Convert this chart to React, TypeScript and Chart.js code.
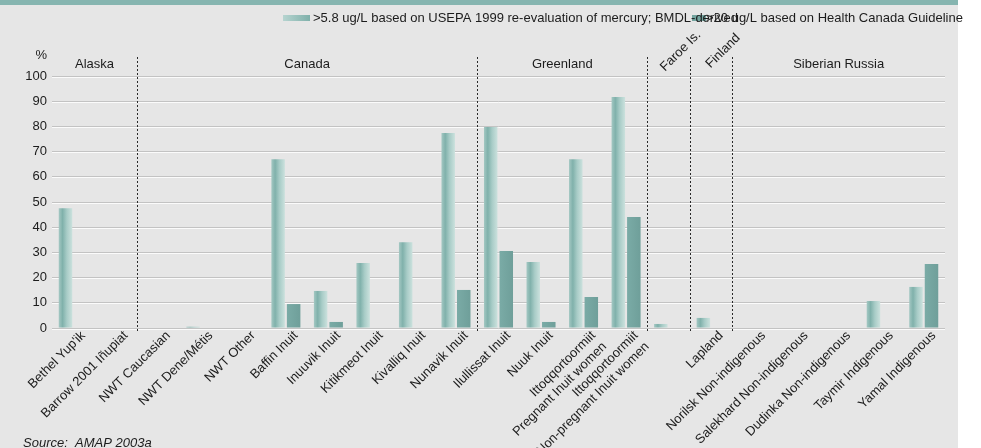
import React, { useEffect, useRef } from "react";
import { Chart, registerables } from "chart.js";

Chart.register(...registerables);

// ---------- data ----------
const categories: (string | string[])[] = [
  "Bethel Yup'ik",
  "Barrow 2001 Iñupiat",
  "NWT Caucasian",
  "NWT Dene/Métis",
  "NWT Other",
  "Baffin Inuit",
  "Inuuvik Inuit",
  "Kitikmeot Inuit",
  "Kivalliq Inuit",
  "Nunavik Inuit",
  "Ilullissat Inuit",
  "Nuuk Inuit",
  ["Ittoqqortoormiit", "Pregnant Inuit women"],
  ["Ittoqqortoormiit", "Non-pregnant Inuit women"],
  "",
  "Lapland",
  "Norilsk Non-indigenous",
  "Salekhard Non-indigenous",
  "Dudinka Non-indigenous",
  "Taymir Indigenous",
  "Yamal Indigenous",
];

const seriesNames = [
  ">5.8 ug/L based on USEPA 1999 re-evaluation of mercury; BMDL-derived",
  ">20 ug/L based on Health Canada Guideline",
];

const usepaValues = [
  47.5, 0, 0, 0.5, 0, 67, 14.7, 25.8, 34, 77.4, 79.8, 26.2, 67, 91.7, 1.6, 4, 0, 0, 0, 10.7, 16.3,
];

const healthCanadaValues = [
  0, 0, 0, 0, 0, 9.5, 2.4, 0, 0, 15.1, 30.6, 2.4, 12.3, 44, 0, 0, 0, 0, 0, 0, 25.4,
];

const yTicks = [0, 10, 20, 30, 40, 50, 60, 70, 80, 90, 100];

const regionNames = ["Alaska", "Canada", "Greenland", "Faroe Is.", "Finland", "Siberian Russia"];
const regionStart = [0, 2, 10, 14, 15, 16];
const regionEnd = [1, 9, 13, 14, 15, 20];

const yUnit = "%";
const sourceText = "Source:  AMAP 2003a";

// ---------- styles ----------
const FONT = "'Liberation Sans', Arial, Helvetica, sans-serif";
const TEXT = "#1c1c1c";
const BG = "#e6e6e6";
const TOP_BAR = "#86b5b0";
const DARK = "#74a5a0";

export default function App() {
  const ref = useRef<HTMLCanvasElement>(null);

  useEffect(() => {
    const canvas = ref.current!;

    const lightGradient = (ctx: CanvasRenderingContext2D, x0: number, x1: number) => {
      const g = ctx.createLinearGradient(x0, 0, x1, 0);
      g.addColorStop(0, "#a4c8c3");
      g.addColorStop(0.28, "#80b1ab");
      g.addColorStop(0.6, "#a8ccc7");
      g.addColorStop(1, "#cbe1dd");
      return g;
    };
    const darkGradient = (ctx: CanvasRenderingContext2D, x0: number, x1: number) => {
      const g = ctx.createLinearGradient(x0, 0, x1, 0);
      g.addColorStop(0, "#7aaba6");
      g.addColorStop(1, "#6f9f9a");
      return g;
    };

    const bgPlugin = {
      id: "bgPlugin",
      beforeDraw(chart: any) {
        const { ctx } = chart;
        ctx.save();
        ctx.fillStyle = "#ffffff";
        ctx.fillRect(0, 0, chart.width, chart.height);
        ctx.fillStyle = BG;
        ctx.fillRect(0, 0, 958, chart.height);
        ctx.fillStyle = TOP_BAR;
        ctx.fillRect(0, 0, 958, 5);
        ctx.restore();
      },
      beforeDatasetsDraw(chart: any) {
        const { ctx, chartArea } = chart;
        const ys = chart.scales.y;
        ctx.save();
        ctx.strokeStyle = "#fbfbfb";
        ctx.lineWidth = 1;
        ys.ticks.forEach((t: any) => {
          const py = Math.floor(ys.getPixelForValue(t.value)) + 1.5;
          ctx.beginPath();
          ctx.moveTo(chartArea.left, py);
          ctx.lineTo(chartArea.right, py);
          ctx.stroke();
        });
        ctx.restore();
        chart.data.datasets.forEach((_ds: any, di: number) => {
          const meta = chart.getDatasetMeta(di);
          meta.data.forEach((el: any) => {
            const p = el.getProps(["x", "width"], true);
            const x0 = p.x - p.width / 2;
            const x1 = p.x + p.width / 2;
            el.options.backgroundColor = di === 0 ? lightGradient(ctx, x0, x1) : darkGradient(ctx, x0, x1);
          });
        });
      },
      afterDraw(chart: any) {
        const { ctx } = chart;
        const xs = chart.scales.x;
        const ys = chart.scales.y;
        const pix = (i: number) => xs.getPixelForValue(i);
        const edge = (i: number) => (pix(i) + pix(i + 1)) / 2; // boundary after category i
        ctx.save();
        // dotted separators
        ctx.strokeStyle = "#2a2a2a";
        ctx.lineWidth = 1;
        ctx.setLineDash([2, 2]);
        for (let r = 0; r < regionEnd.length - 1; r++) {
          const bx = Math.round(edge(regionEnd[r])) + 0.5;
          ctx.beginPath();
          ctx.moveTo(bx, 57);
          ctx.lineTo(bx, 332);
          ctx.stroke();
        }
        ctx.setLineDash([]);
        // region labels
        ctx.fillStyle = TEXT;
        ctx.font = `13px ${FONT}`;
        ctx.textBaseline = "middle";
        ctx.textAlign = "center";
        for (let r = 0; r < regionNames.length; r++) {
          const s = regionStart[r];
          const e = regionEnd[r];
          if (s === e) {
            ctx.save();
            ctx.translate(pix(s) + 12, 51);
            ctx.rotate(-Math.PI / 4);
            ctx.fillText(regionNames[r], 0, 0);
            ctx.restore();
          } else {
            const cx = (pix(s) + pix(e)) / 2;
            ctx.fillText(regionNames[r], cx, 64);
          }
        }
        // unit
        ctx.textAlign = "right";
        ctx.fillText(yUnit, ys.right - 5, 55);
        // legend
        const sw1 = ctx.createLinearGradient(283, 0, 310, 0);
        sw1.addColorStop(0, "#b6d4d0");
        sw1.addColorStop(1, "#7fb0aa");
        ctx.fillStyle = sw1;
        ctx.fillRect(283, 15, 27, 6);
        ctx.fillStyle = DARK;
        ctx.fillRect(692, 15, 14, 6);
        ctx.fillStyle = TEXT;
        ctx.textAlign = "left";
        ctx.fillText(seriesNames[0], 313, 18.5);
        ctx.fillText(seriesNames[1], 706, 18.5);
        // source
        ctx.font = `italic 13px ${FONT}`;
        ctx.textBaseline = "alphabetic";
        ctx.fillText(sourceText, 23, 447);
        ctx.restore();
      },
    };

    const chart = new Chart(canvas, {
      type: "bar",
      data: {
        labels: categories as any,
        datasets: [
          {
            label: seriesNames[0],
            data: usepaValues,
            backgroundColor: () => "#8dbbb6",
            borderWidth: 0,
            categoryPercentage: 0.73,
            barPercentage: 0.87,
          },
          {
            label: seriesNames[1],
            data: healthCanadaValues,
            backgroundColor: () => DARK,
            borderWidth: 0,
            categoryPercentage: 0.73,
            barPercentage: 0.87,
          },
        ],
      },
      options: {
        responsive: false,
        animation: false,
        events: [],
        layout: { padding: { top: 76, right: 36, left: 0, bottom: 0 } },
        plugins: {
          legend: { display: false },
          tooltip: { enabled: false },
          title: { display: false },
        },
        scales: {
          x: {
            offset: true,
            grid: { display: false },
            border: { display: false },
            ticks: {
              autoSkip: false,
              maxRotation: 45,
              minRotation: 45,
              padding: -8,
              labelOffset: 10,
              color: TEXT,
              font: { family: FONT, size: 13, lineHeight: 1.2 },
            },
            afterFit: (s: any) => {
              s.height = 120;
            },
          },
          y: {
            min: 0,
            max: 100,
            afterBuildTicks: (s: any) => {
              s.ticks = yTicks.map((v) => ({ value: v }));
            },
            grid: { color: "#c3c3c3", drawTicks: false, lineWidth: 1 },
            border: { display: false },
            ticks: {
              padding: 5,
              color: TEXT,
              font: { family: FONT, size: 13 },
            },
            afterFit: (s: any) => {
              s.width = 52;
            },
          },
        },
      },
      plugins: [bgPlugin],
    });

    return () => chart.destroy();
  }, []);

  return (
    <div style={{ position: "absolute", left: 0, top: 0, width: 981, height: 448 }}>
      <canvas ref={ref} width={981} height={448} style={{ display: "block", width: 981, height: 448 }} />
    </div>
  );
}
